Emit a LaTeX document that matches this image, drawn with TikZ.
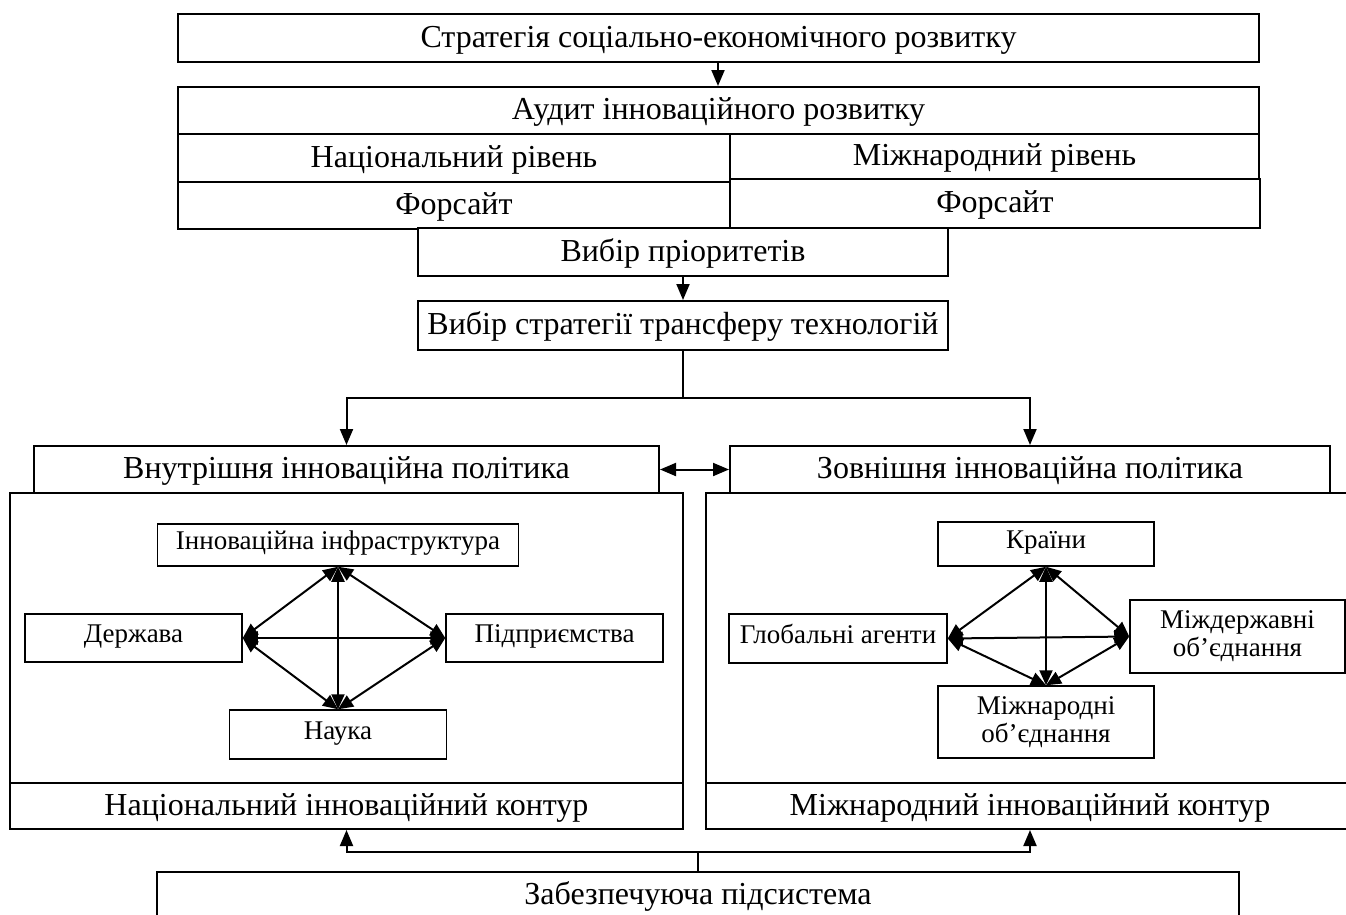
\documentclass[tikz,border=0pt]{standalone}
\usepackage{fontspec}
\setmainfont{Liberation Serif}
\usetikzlibrary{positioning,calc,arrows.meta}

\tikzset{
  box/.style={draw, line width=2pt, inner sep=0pt, text height=22pt, text depth=4pt,
    font=\fontsize{32}{36}\selectfont},
  sbox/.style={draw, line width=1.5pt, inner sep=0pt, align=center,
    font=\fontsize{27}{28}\selectfont},
  sline/.style={sbox, text height=17pt, text depth=8pt},
  frame/.style={draw, line width=2pt, inner sep=0pt},
  arr/.style={line width=2pt, -{Triangle[length=16pt,width=13pt]}},
  darr/.style={line width=2pt, {Triangle[length=16pt,width=13pt]}-{Triangle[length=16pt,width=13pt]}},
  link/.style={line width=2pt, {Triangle[length=15pt,width=13pt]}-{Triangle[length=15pt,width=13pt]}},
}

\begin{document}
\begin{tikzpicture}[x=1pt,y=-1pt]
    \useasboundingbox (0,0) rectangle (1346,914);

    % Strategy and audit
    \node[box, minimum width=1081pt, minimum height=48pt] (strat) at (718.5,38) {Стратегія соціально-економічного розвитку};
    \node[box, minimum width=1081pt, minimum height=47pt] (audit) at (718.5,110.5) {Аудит інноваційного розвитку};
    \node[box, minimum width=552pt, minimum height=48pt] (natlev) at (454,158) {Національний рівень};
    \node[box, minimum width=529pt, minimum height=45pt] (intlev) at (994.5,156.5) {Міжнародний рівень};
    \node[box, minimum width=552pt, minimum height=47pt] (forL) at (454,205.5) {Форсайт};
    \node[box, minimum width=530pt, minimum height=49pt] (forR) at (995,203.5) {Форсайт};
    \draw[arr] (strat.south -| 718,0) -- (audit.north -| 718,0);

    % Priorities and transfer
    \node[box, minimum width=530pt, minimum height=48pt, fill=white] (prior) at (683,252) {Вибір пріоритетів};
    \node[box, minimum width=530pt, minimum height=49pt] (trans) at (683,325.5) {Вибір стратегії трансферу технологій};
    \draw[arr] (prior) -- (trans);

    % Policies
    \node[box, minimum width=625pt, minimum height=47pt] (inpol) at (346.5,469.5) {Внутрішня інноваційна політика};
    \node[box, minimum width=600pt, minimum height=47pt] (outpol) at (1030,469.5) {Зовнішня інноваційна політика};
    \coordinate (split) at (683,398);
    \draw[line width=2pt] (trans.south) -- (split);
    \draw[arr] (split) -| (inpol.north);
    \draw[arr] (split) -| (outpol.north);
    \draw[darr] (inpol.east) -- (outpol.west);

    % National contour
    \node[frame, minimum width=673pt, minimum height=290pt] (natbig) at (346.5,638) {};
    \node[box, minimum width=673pt, minimum height=46pt] (natstrip) at (346.5,806) {Національний інноваційний контур};
    \node[sline, minimum width=361pt, minimum height=42pt] (infra) at (338,545) {Інноваційна інфраструктура};
    \node[sline, minimum width=217pt, minimum height=48pt] (derzh) at (133.5,638) {Держава};
    \node[sline, minimum width=217pt, minimum height=48pt] (pidpr) at (554.5,638) {Підприємства};
    \node[sline, minimum width=217pt, minimum height=49pt] (nauka) at (338,734.5) {Наука};
    \draw[link] (derzh.east) -- (infra.south);
    \draw[link] (infra.south) -- (pidpr.west);
    \draw[link] (derzh.east) -- (nauka.north);
    \draw[link] (nauka.north) -- (pidpr.west);
    \draw[link] (derzh.east) -- (pidpr.west);
    \draw[link] (infra.south) -- (nauka.north);

    % International contour
    \node[frame, minimum width=648pt, minimum height=290pt] (intbig) at (1030,638) {};
    \node[box, minimum width=648pt, minimum height=46pt] (intstrip) at (1030,806) {Міжнародний інноваційний контур};
    \node[sline, minimum width=216pt, minimum height=44pt] (krainy) at (1046,544) {Країни};
    \node[sline, minimum width=218pt, minimum height=49pt] (global) at (838,638.5) {Глобальні агенти};
    \node[sbox, minimum width=215pt, minimum height=73pt] (mizhd) at (1237.5,636.5) {Міждержавні\\об’єднання};
    \node[sbox, minimum width=216pt, minimum height=72pt] (mizhn) at (1046,722) {Міжнародні\\об’єднання};
    \draw[link] (global.east) -- (krainy.south);
    \draw[link] (krainy.south) -- (mizhd.west);
    \draw[link] (global.east) -- (mizhn.north);
    \draw[link] (mizhn.north) -- (mizhd.west);
    \draw[link] (global.east) -- (mizhd.west);
    \draw[link] (krainy.south) -- (mizhn.north);

    % Support subsystem
    \node[box, minimum width=1082pt, minimum height=46pt, anchor=north] (supp) at (698,871) {Забезпечуюча підсистема};
    \coordinate (bus) at (698,852);
    \draw[line width=2pt] (supp.north) -- (bus);
    \draw[arr] (bus) -| (natstrip.south);
    \draw[arr] (bus) -| (intstrip.south);
\end{tikzpicture}
\end{document}
